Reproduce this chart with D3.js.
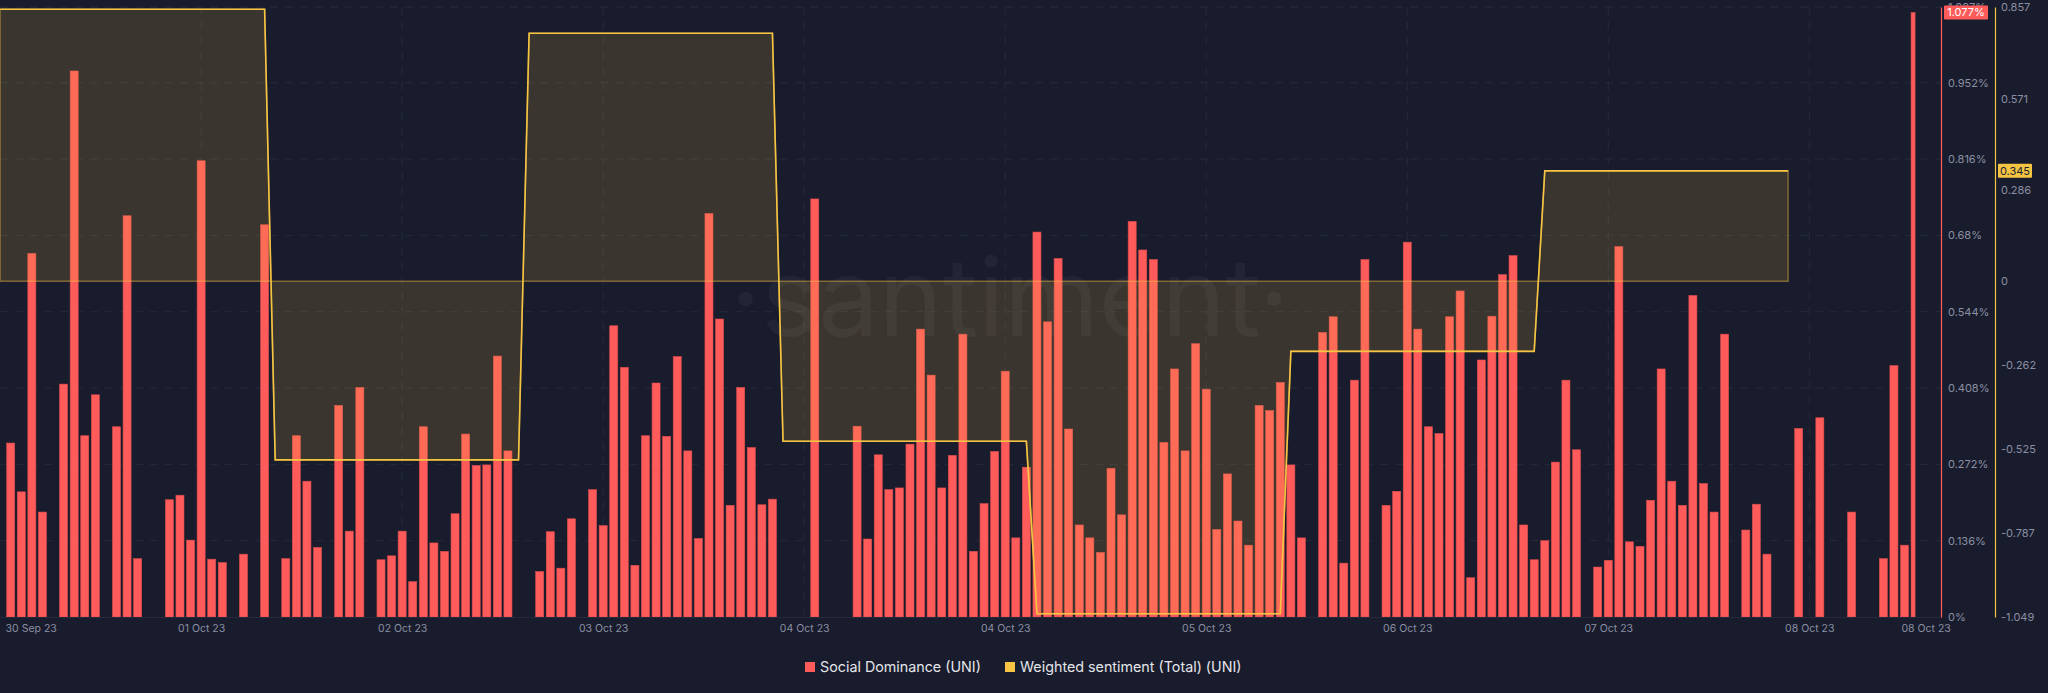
<!DOCTYPE html>
<html>
<head>
<meta charset="utf-8">
<script src="https://cdn.jsdelivr.net/npm/d3@7"></script>
<style>
  html, body { margin: 0; padding: 0; background: #191c2c; }
  svg { display: block; }
  text { font-family: Inter, "Noto Sans", sans-serif; }
</style>
</head>
<body>
<svg id="chart" width="2048" height="693"></svg>
<script>
// ---------- DATA (hourly, index 0 = first visible bar) ----------
const socialDominance = [
  0.310, 0.223, 0.648, 0.187, null, 0.415, 0.973, 0.323, 0.396, null,
  0.339, 0.715, 0.104, null, null, 0.209, 0.217, 0.137, 0.813, 0.103,
  0.097, null, 0.112, null, 0.699, null, 0.104, 0.323, 0.242, 0.124,
  null, 0.377, 0.153, 0.409, null, 0.102, 0.109, 0.153, 0.063, 0.339,
  0.132, 0.117, 0.184, 0.326, 0.270, 0.271, 0.465, 0.296, null, null,
  0.081, 0.152, 0.087, 0.175, null, 0.227, 0.163, 0.519, 0.445, 0.092,
  0.323, 0.417, 0.322, 0.464, 0.296, 0.140, 0.719, 0.531, 0.199, 0.409,
  0.302, 0.200, 0.210, null, null, null, 0.745, null, null, null,
  0.340, 0.139, 0.289, 0.227, 0.230, 0.308, 0.513, 0.431, 0.230, 0.288,
  0.504, 0.117, 0.202, 0.295, 0.438, 0.141, 0.267, 0.686, 0.526, 0.639,
  0.335, 0.164, 0.141, 0.115, 0.265, 0.182, 0.705, 0.654, 0.637, 0.311,
  0.442, 0.296, 0.487, 0.406, 0.156, 0.255, 0.171, 0.128, 0.377, 0.368,
  0.418, 0.271, 0.141, null, 0.507, 0.535, 0.096, 0.422, 0.637, null,
  0.199, 0.224, 0.668, 0.513, 0.339, 0.327, 0.535, 0.581, 0.070, 0.458,
  0.536, 0.610, 0.644, 0.164, 0.102, 0.136, 0.276, 0.422, 0.298, null,
  0.089, 0.101, 0.660, 0.134, 0.126, 0.208, 0.442, 0.242, 0.199, 0.573,
  0.238, 0.187, 0.504, null, 0.155, 0.201, 0.112, null, null, 0.336,
  null, 0.355, null, null, 0.187, null, null, 0.104, 0.448, 0.128,
  1.077
];

// Weighted sentiment: daily values, held over hourly points
const sentimentValues   = [0.85, -0.558, 0.775, -0.50, -1.039, -0.219, 0.345];
const sentimentFromHour = [-1, 25, 49, 73, 97, 121, 145];
const sentimentToHour   = [24, 48, 72, 96, 120, 144, 168];

const leftTickValues = [0, 0.136, 0.272, 0.408, 0.544, 0.68, 0.816, 0.952, 1.087];
const leftTickLabels = ["0%", "0.136%", "0.272%", "0.408%", "0.544%", "0.68%", "0.816%", "0.952%", "1.087%"];
const rightTickValues = [0.857, 0.571, 0.286, 0, -0.262, -0.525, -0.787, -1.049];
const rightTickLabels = ["0.857", "0.571", "0.286", "0", "-0.262", "-0.525", "-0.787", "-1.049"];
const xTickHours  = [-1, 18, 37, 56, 75, 94, 113, 132, 151, 170, 181];
const xTickLabels = ["30 Sep 23", "01 Oct 23", "02 Oct 23", "03 Oct 23", "04 Oct 23", "04 Oct 23",
                     "05 Oct 23", "06 Oct 23", "07 Oct 23", "08 Oct 23", "08 Oct 23"];
const lastSocial = "1.077%";
const lastSentiment = "0.345";
const legendItems = ["Social Dominance (UNI)", "Weighted sentiment (Total) (UNI)"];

// ---------- LAYOUT ----------
const svg = d3.select("#chart");
const W = 2048, H = 693;
const plotLeft = 0, plotRight = 1941, plotTop = 7, plotBottom = 617;
const redAxisX = 1941, yellowAxisX = 1995;
const RED = "#ff5b5b", YELLOW = "#f5c443";
const GRID = "#262a3c", LABEL = "#8a8fa3";

svg.append("rect").attr("width", W).attr("height", H).attr("fill", "#191c2c");

const x = d3.scaleLinear().domain([-1.011, 182.45]).range([plotLeft, plotRight]);
const yL = d3.scaleLinear().domain([0, 1.087]).range([plotBottom, plotTop]);
const yR = d3.scaleLinear().domain([-1.049, 0.857]).range([plotBottom, plotTop]);

// clip
svg.append("defs").append("clipPath").attr("id", "plotclip")
  .append("rect").attr("x", plotLeft).attr("y", 0).attr("width", plotRight - plotLeft).attr("height", plotBottom + 1);

// grid
const grid = svg.append("g");
grid.selectAll("line.h").data(leftTickValues.slice(1)).join("line")
  .attr("x1", plotLeft).attr("x2", plotRight)
  .attr("y1", d => yL(d)).attr("y2", d => yL(d))
  .attr("stroke", GRID).attr("stroke-width", 1).attr("stroke-dasharray", "8,7");
grid.selectAll("line.v").data(xTickHours.slice(1, -1)).join("line")
  .attr("x1", d => x(d)).attr("x2", d => x(d))
  .attr("y1", plotTop).attr("y2", plotBottom)
  .attr("stroke", GRID).attr("stroke-width", 1).attr("stroke-dasharray", "8,7");

// watermark
svg.append("text").attr("x", 1010).attr("y", 336).attr("text-anchor", "middle")
  .attr("font-family", "Lato, 'Open Sans', sans-serif").attr("font-size", 108).attr("font-weight", 400)
  .attr("fill", "#ffffff").attr("fill-opacity", 0.045)
  .text("·santiment·");

// bars
const plot = svg.append("g").attr("clip-path", "url(#plotclip)");
const pitch = x(1) - x(0);
const bw = pitch * 0.76;
const lastIdx = socialDominance.length - 1;
const barData = socialDominance.map((v, i) => ({ i, v })).filter(d => d.v != null);
plot.selectAll("rect.bar").data(barData).join("rect")
  .attr("x", d => x(d.i) - bw / 2)
  .attr("width", d => d.i === lastIdx ? bw / 2 : bw)
  .attr("y", d => yL(d.v))
  .attr("height", d => yL(0) - yL(d.v))
  .attr("fill", RED)
  .attr("stroke", "#d84c4c").attr("stroke-width", 0.6);

// sentiment
const sentPts = [];
sentimentValues.forEach((v, k) => {
  sentPts.push({ h: sentimentFromHour[k], v });
  sentPts.push({ h: sentimentToHour[k], v });
});
const area = d3.area().x(d => x(d.h)).y0(yR(0)).y1(d => yR(d.v));
const line = d3.line().x(d => x(d.h)).y(d => yR(d.v));
plot.append("path").datum(sentPts).attr("d", area)
  .attr("fill", "#ffc940").attr("fill-opacity", 0.15)
  .attr("stroke", "#ffc940").attr("stroke-opacity", 0.4).attr("stroke-width", 1.5);
plot.append("path").datum(sentPts).attr("d", line)
  .attr("fill", "none").attr("stroke", YELLOW).attr("stroke-width", 1.6);

// x axis
const xAxis = svg.append("g").attr("transform", `translate(0,${plotBottom})`)
  .call(d3.axisBottom(x).tickValues(xTickHours).tickFormat((d, i) => xTickLabels[i]).tickSize(0).tickPadding(8));
xAxis.select(".domain").attr("stroke", GRID).attr("d", `M${plotLeft},0.5H${plotRight}`);
xAxis.selectAll("text").attr("fill", LABEL).attr("font-size", 10.5).attr("font-family", "Inter, sans-serif");
xAxis.selectAll(".tick").filter((d, i) => i === 0).select("text").attr("text-anchor", "start").attr("dx", 5);

// left (red) axis
const lAxis = svg.append("g").attr("transform", `translate(${redAxisX},0)`)
  .call(d3.axisRight(yL).tickValues(leftTickValues).tickFormat((d, i) => leftTickLabels[i]).tickSize(0).tickSizeOuter(0).tickPadding(7));
lAxis.select(".domain").attr("stroke", RED).attr("stroke-width", 1.2);
lAxis.selectAll("text").attr("fill", LABEL).attr("font-size", 11).attr("font-family", "Inter, sans-serif");

// right (yellow) axis
const rAxis = svg.append("g").attr("transform", `translate(${yellowAxisX},0)`)
  .call(d3.axisRight(yR).tickValues(rightTickValues).tickFormat((d, i) => rightTickLabels[i]).tickSize(0).tickSizeOuter(0).tickPadding(6));
rAxis.select(".domain").attr("stroke", YELLOW).attr("stroke-width", 1.2);
rAxis.selectAll("text").attr("fill", LABEL).attr("font-size", 11).attr("font-family", "Inter, sans-serif");

// last-value badges
function badge(xLeft, yc, w, txt, bg, fg) {
  const g = svg.append("g");
  g.append("rect").attr("x", xLeft).attr("y", yc - 7).attr("width", w).attr("height", 14).attr("rx", 1).attr("fill", bg);
  g.append("text").attr("x", xLeft + w / 2).attr("y", yc).attr("dy", "0.35em").attr("text-anchor", "middle")
    .attr("font-size", 11).attr("fill", fg).text(txt);
}
badge(redAxisX + 3, yL(socialDominance[lastIdx]), 44, lastSocial, RED, "#ffffff");
badge(yellowAxisX + 3, yR(sentimentValues[sentimentValues.length - 1]), 34, lastSentiment, YELLOW, "#1b1e2e");

// legend
const legend = svg.append("g").attr("transform", "translate(805,667)");
const lg1 = legend.append("g");
lg1.append("rect").attr("x", 0).attr("y", -5).attr("width", 10).attr("height", 10).attr("fill", RED);
lg1.append("text").attr("x", 15).attr("y", 0).attr("dy", "0.35em").attr("font-size", 14.3).attr("fill", "#e4e5ea").text(legendItems[0]);
const lg2 = legend.append("g").attr("transform", "translate(200,0)");
lg2.append("rect").attr("x", 0).attr("y", -5).attr("width", 10).attr("height", 10).attr("fill", YELLOW);
lg2.append("text").attr("x", 15).attr("y", 0).attr("dy", "0.35em").attr("font-size", 14.3).attr("fill", "#e4e5ea").text(legendItems[1]);
</script>
</body>
</html>
